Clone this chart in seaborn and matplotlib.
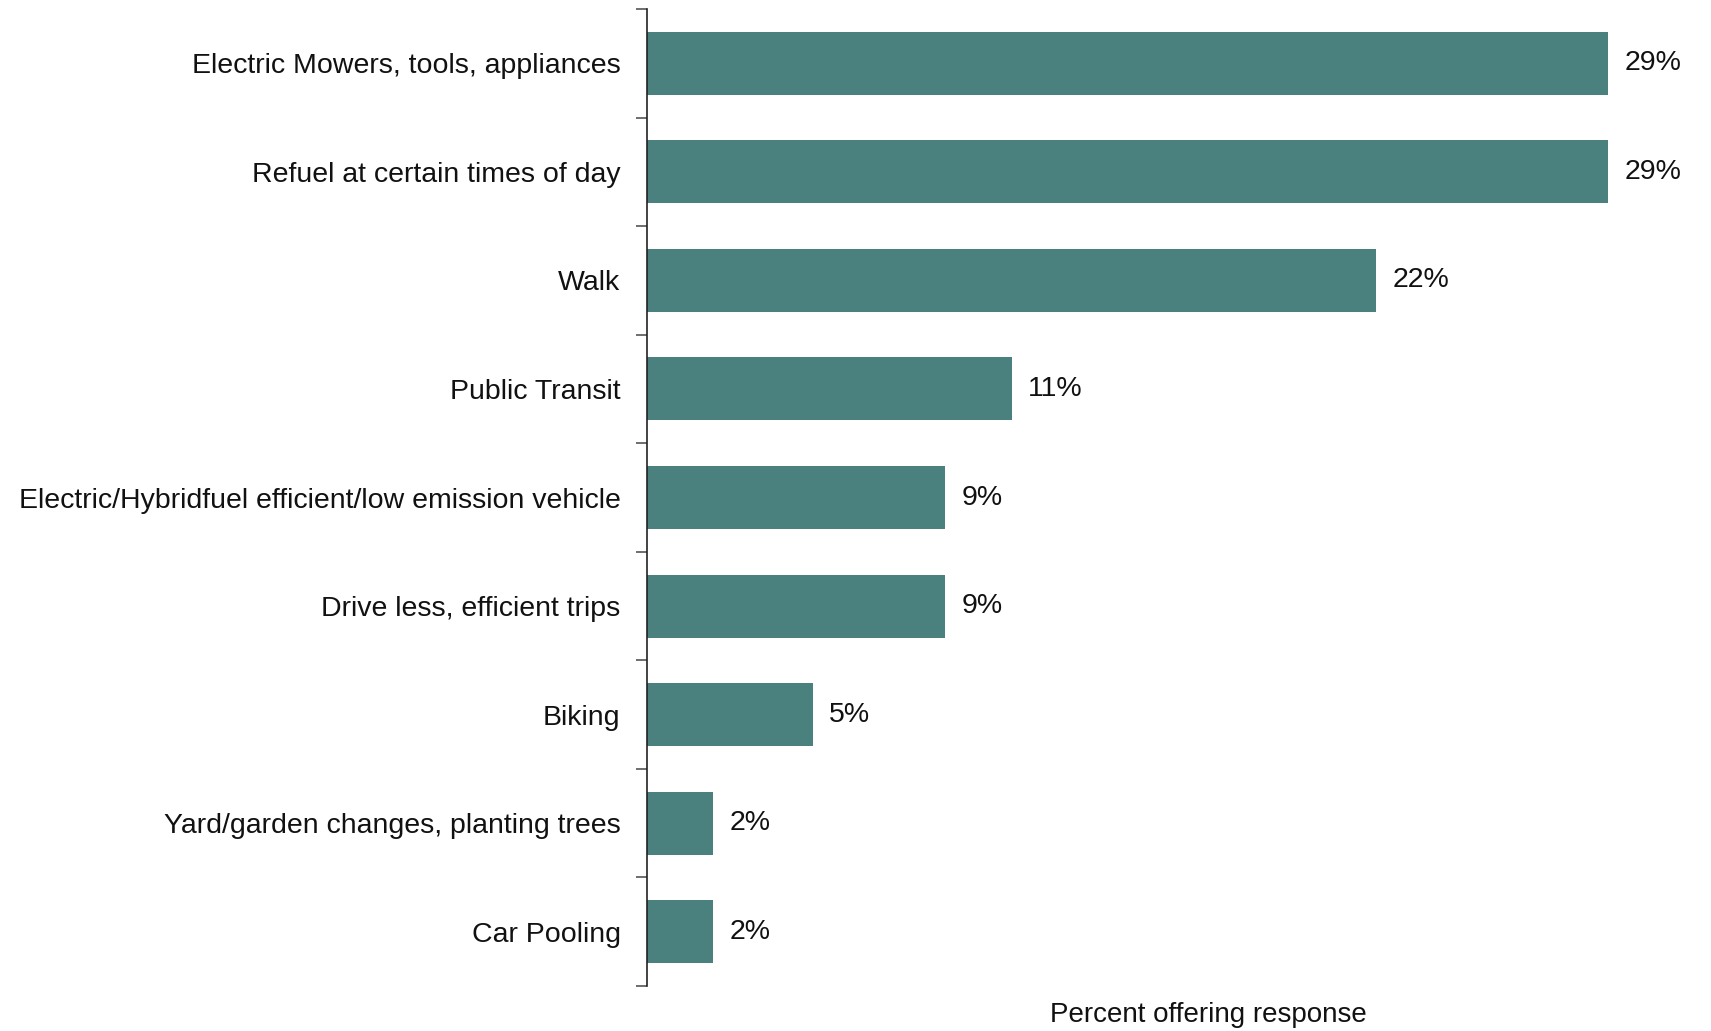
import matplotlib
matplotlib.use("Agg")
import matplotlib.pyplot as plt
import seaborn as sns
import pandas as pd
import numpy as np

categories = [
    "Electric Mowers, tools, appliances",
    "Refuel at certain times of day",
    "Walk",
    "Public Transit",
    "Electric/Hybridfuel efficient/low emission vehicle",
    "Drive less, efficient trips",
    "Biking",
    "Yard/garden changes, planting trees",
    "Car Pooling",
]
values = [29, 29, 22, 11, 9, 9, 5, 2, 2]
value_labels = ["29%", "29%", "22%", "11%", "9%", "9%", "5%", "2%", "2%"]

sns.set_theme(style="white")
plt.rcParams['font.family'] = ['Liberation Sans', 'DejaVu Sans']

df = pd.DataFrame({"cat": categories, "val": values})

W, H = 1711, 1031
fig = plt.figure(figsize=(W / 100, H / 100), dpi=100)
left, right, top, bottom = 647, 1650, 9, 986
ax = fig.add_axes([left / W, 1 - bottom / H, (right - left) / W, (bottom - top) / H])

sns.barplot(data=df, x="val", y="cat", color="#4A817E", width=0.58, ax=ax,
            saturation=1, edgecolor="none")

ax.set_xlim(0, 29 * (right - left) / 961)
ax.set_ylim(len(categories) - 0.5, -0.5)

for s in ["top", "right", "bottom"]:
    ax.spines[s].set_visible(False)
ax.spines["left"].set_color("#222222")
ax.spines["left"].set_linewidth(1.2)

ax.set_xticks([])
ax.set_ylabel("")
ax.tick_params(axis="y", which="major", left=True, length=0, pad=19, labelsize=20.5, labelcolor="#111111")
ax.set_yticks(np.arange(-0.5, len(categories) + 0.5, 1), minor=True)
ax.tick_params(axis="y", which="minor", left=True, length=8, width=1.2, color="#555555", direction="out")

ax.bar_label(ax.containers[0], labels=value_labels, padding=12, fontsize=20.5, color="#111111")

ax.set_xlabel("Percent offering response", fontsize=20, color="#111111")
ax.xaxis.set_label_coords((1208 - left) / (right - left), -(1015 - bottom) / (bottom - top))
ax.xaxis.label.set_va("center")

fig.savefig("out.png", dpi=100)
